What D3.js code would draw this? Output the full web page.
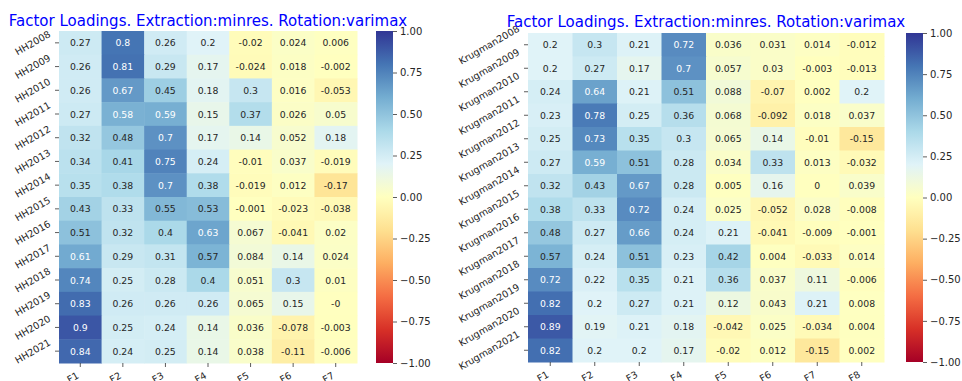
<!DOCTYPE html>
<html>
<head>
<meta charset="utf-8">
<script src="https://cdn.jsdelivr.net/npm/d3@7"></script>
<style>
body { margin: 0; background: #fff; }
svg text { font-family: "DejaVu Sans", sans-serif; }
</style>
</head>
<body>
<div id="chart"></div>
<script>
const svgw = 962
const svgh = 381
const title = 'Factor Loadings. Extraction:minres. Rotation:varimax'

// left panel: HH
const factorsHH = ['F1', 'F2', 'F3', 'F4', 'F5', 'F6', 'F7']
const yearsHH = ['HH2008', 'HH2009', 'HH2010', 'HH2011', 'HH2012', 'HH2013', 'HH2014',
    'HH2015', 'HH2016', 'HH2017', 'HH2018', 'HH2019', 'HH2020', 'HH2021']
const loadingsHH = [
    [0.27, 0.8, 0.26, 0.2, -0.02, 0.024, 0.006],
    [0.26, 0.81, 0.29, 0.17, -0.024, 0.018, -0.002],
    [0.26, 0.67, 0.45, 0.18, 0.3, 0.016, -0.053],
    [0.27, 0.58, 0.59, 0.15, 0.37, 0.026, 0.05],
    [0.32, 0.48, 0.7, 0.17, 0.14, 0.052, 0.18],
    [0.34, 0.41, 0.75, 0.24, -0.01, 0.037, -0.019],
    [0.35, 0.38, 0.7, 0.38, -0.019, 0.012, -0.17],
    [0.43, 0.33, 0.55, 0.53, -0.001, -0.023, -0.038],
    [0.51, 0.32, 0.4, 0.63, 0.067, -0.041, 0.02],
    [0.61, 0.29, 0.31, 0.57, 0.084, 0.14, 0.024],
    [0.74, 0.25, 0.28, 0.4, 0.051, 0.3, 0.01],
    [0.83, 0.26, 0.26, 0.26, 0.065, 0.15, -0],
    [0.9, 0.25, 0.24, 0.14, 0.036, -0.078, -0.003],
    [0.84, 0.24, 0.25, 0.14, 0.038, -0.11, -0.006]
]

// right panel: Krugman
const factorsKr = ['F1', 'F2', 'F3', 'F4', 'F5', 'F6', 'F7', 'F8']
const yearsKr = ['Krugman2008', 'Krugman2009', 'Krugman2010', 'Krugman2011', 'Krugman2012',
    'Krugman2013', 'Krugman2014', 'Krugman2015', 'Krugman2016', 'Krugman2017',
    'Krugman2018', 'Krugman2019', 'Krugman2020', 'Krugman2021']
const loadingsKr = [
    [0.2, 0.3, 0.21, 0.72, 0.036, 0.031, 0.014, -0.012],
    [0.2, 0.27, 0.17, 0.7, 0.057, 0.03, -0.003, -0.013],
    [0.24, 0.64, 0.21, 0.51, 0.088, -0.07, 0.002, 0.2],
    [0.23, 0.78, 0.25, 0.36, 0.068, -0.092, 0.018, 0.037],
    [0.25, 0.73, 0.35, 0.3, 0.065, 0.14, -0.01, -0.15],
    [0.27, 0.59, 0.51, 0.28, 0.034, 0.33, 0.013, -0.032],
    [0.32, 0.43, 0.67, 0.28, 0.005, 0.16, 0, 0.039],
    [0.38, 0.33, 0.72, 0.24, 0.025, -0.052, 0.028, -0.008],
    [0.48, 0.27, 0.66, 0.24, 0.21, -0.041, -0.009, -0.001],
    [0.57, 0.24, 0.51, 0.23, 0.42, 0.004, -0.033, 0.014],
    [0.72, 0.22, 0.35, 0.21, 0.36, 0.037, 0.11, -0.006],
    [0.82, 0.2, 0.27, 0.21, 0.12, 0.043, 0.21, 0.008],
    [0.89, 0.19, 0.21, 0.18, -0.042, 0.025, -0.034, 0.004],
    [0.82, 0.2, 0.2, 0.17, -0.02, 0.012, -0.15, 0.002]
]

const cbTicks = [1, 0.75, 0.5, 0.25, 0, -0.25, -0.5, -0.75, -1]

// RdYlBu, same stops as matplotlib
const brewer = ['#a50026', '#d73027', '#f46d43', '#fdae61', '#fee090', '#ffffbf',
    '#e0f3f8', '#abd9e9', '#74add1', '#4575b4', '#313695']
const colorScale = d3.scaleLinear()
    .domain(d3.range(11).map(i => -1 + i * 0.2))
    .range(brewer)
    .clamp(true)

const svg = d3.select('#chart')
    .append('svg')
    .attr('width', svgw)
    .attr('height', svgh)

const defs = svg.append('defs')
const grad = defs.append('linearGradient')
    .attr('id', 'cbgrad')
    .attr('x1', 0).attr('y1', 1).attr('x2', 0).attr('y2', 0)
d3.range(0, 1.0001, 0.05).forEach(t => {
    grad.append('stop')
        .attr('offset', t)
        .attr('stop-color', colorScale(-1 + 2 * t))
})

function lum(c) {
    const rgb = d3.rgb(c)
    const f = v => {
        v = v / 255
        return v <= 0.03928 ? v / 12.92 : Math.pow((v + 0.055) / 1.055, 2.4)
    }
    return 0.2126 * f(rgb.r) + 0.7152 * f(rgb.g) + 0.0722 * f(rgb.b)
}

function fmt(v) {
    return Object.is(v, -0) ? '-0' : String(v)
}

const ang = 30 * Math.PI / 180

// rotated label with its bounding box placed like matplotlib does
function rotLabel(g, txt, fs, place) {
    const t = g.append('text')
        .attr('text-anchor', 'middle')
        .attr('dominant-baseline', 'central')
        .attr('font-size', fs)
        .attr('fill', '#262626')
        .text(txt)
    const w = t.node().getComputedTextLength()
    const h = fs * 1.05
    const bw = w * Math.cos(ang) + h * Math.sin(ang)
    const bh = w * Math.sin(ang) + h * Math.cos(ang)
    const c = place(bw, bh)
    t.attr('transform', `translate(${c[0]},${c[1]}) rotate(-30)`)
}

function drawPanel(p) {
    const g = svg.append('g')

    const xScale = d3.scaleBand()
        .domain(p.cols)
        .range([p.x0, p.x1])
    const yScale = d3.scaleBand()
        .domain(p.rows)
        .range([p.y0, p.y1])

    const cells = []
    p.values.forEach((row, i) => row.forEach((v, j) => {
        cells.push({ row: p.rows[i], col: p.cols[j], v: v })
    }))

    g.selectAll('rect.cell')
        .data(cells)
        .enter()
        .append('rect')
        .attr('class', 'cell')
        .attr('x', d => xScale(d.col))
        .attr('y', d => yScale(d.row))
        .attr('width', xScale.bandwidth() + 0.5)
        .attr('height', yScale.bandwidth() + 0.5)
        .attr('fill', d => colorScale(d.v))

    g.selectAll('text.annot')
        .data(cells)
        .enter()
        .append('text')
        .attr('class', 'annot')
        .attr('x', d => xScale(d.col) + xScale.bandwidth() / 2)
        .attr('y', d => yScale(d.row) + yScale.bandwidth() / 2)
        .attr('text-anchor', 'middle')
        .attr('dominant-baseline', 'central')
        .attr('font-size', 9.3)
        .attr('fill', d => lum(colorScale(d.v)) < 0.408 ? '#ffffff' : '#262626')
        .text(d => fmt(d.v))

    // y ticks
    p.rows.forEach(r => {
        const y = yScale(r) + yScale.bandwidth() / 2
        g.append('line')
            .attr('x1', p.x0 - 4).attr('x2', p.x0)
            .attr('y1', y).attr('y2', y)
            .attr('stroke', '#333').attr('stroke-width', 0.8)
        rotLabel(g, r, 9.6, (bw, bh) => [p.x0 - 7 - bw / 2, y])
    })

    // x ticks
    p.cols.forEach(c => {
        const x = xScale(c) + xScale.bandwidth() / 2
        g.append('line')
            .attr('x1', x).attr('x2', x)
            .attr('y1', p.y1).attr('y2', p.y1 + 4)
            .attr('stroke', '#333').attr('stroke-width', 0.8)
        rotLabel(g, c, 9.6, (bw, bh) => [x - bw / 2, p.y1 + 7 + bh / 2])
    })

    // title
    g.append('text')
        .attr('x', (p.x0 + p.x1) / 2)
        .attr('y', p.titleY)
        .attr('text-anchor', 'middle')
        .attr('font-size', 15)
        .attr('fill', 'blue')
        .text(title)

    // colorbar
    g.append('rect')
        .attr('x', p.cbX)
        .attr('y', p.y0)
        .attr('width', p.cbW)
        .attr('height', p.y1 - p.y0)
        .attr('fill', 'url(#cbgrad)')

    const cbScale = d3.scaleLinear()
        .domain([-1, 1])
        .range([p.y1, p.y0])
    const cbAxis = d3.axisRight(cbScale)
        .tickValues(cbTicks)
        .tickFormat(d3.format('.2f'))
        .tickSize(4)
        .tickPadding(3)

    const ax = g.append('g')
        .attr('transform', `translate(${p.cbX + p.cbW},0)`)
        .call(cbAxis)
    ax.select('.domain').remove()
    ax.selectAll('line').attr('stroke', '#333').attr('stroke-width', 0.8)
    ax.selectAll('text')
        .attr('font-size', 10)
        .attr('font-family', '"DejaVu Sans", sans-serif')
        .attr('fill', '#262626')
}

drawPanel({
    rows: yearsHH, cols: factorsHH, values: loadingsHH,
    x0: 59, x1: 357, y0: 31, y1: 363, cbX: 376, cbW: 17, titleY: 26
})

drawPanel({
    rows: yearsKr, cols: factorsKr, values: loadingsKr,
    x0: 528, x1: 884, y0: 33, y1: 362, cbX: 906, cbW: 17, titleY: 27
})
</script>
</body>
</html>
